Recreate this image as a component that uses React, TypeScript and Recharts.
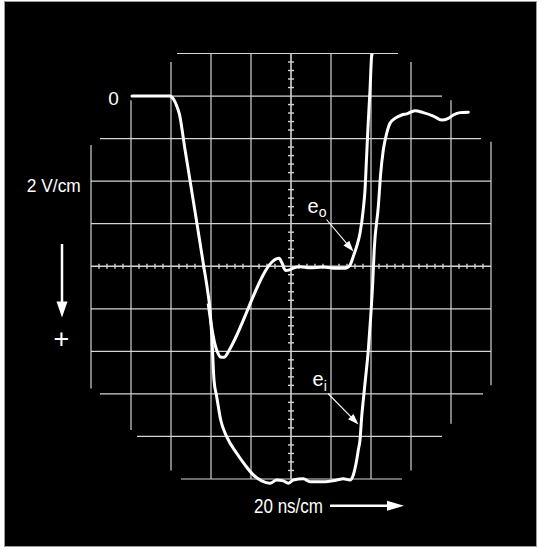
import React from 'react';
import { LineChart, Line, XAxis, YAxis, ReferenceLine } from 'recharts';

// scope photo: 20 ns per division across, 2 V per division, positive voltage downward
// input pulse e_i (time in ns, volts)
const eiNs = [
  20.5, 39.5, 41.3, 42.8, 44.2, 46.9, 49.55, 52.95, 56.4, 58.25, 59.5, 60.5, 61.5, 62.85, 64.85,
  67.85, 72.85, 77, 81.15, 85.35, 89.5, 92.85, 96.15, 98.65, 101.15, 106.15, 109.5,
  116.15, 122.85, 126.15, 129.5, 131.15, 132.85, 133.65, 134.5, 135.35, 136.15, 137,
  138.65, 139.85, 140.85, 141.6, 143.65, 144.85, 146.15, 147.85, 149.5, 152, 155.35,
  157.85, 162, 166.15, 171.15, 175.35, 178.65, 181.15, 184.5, 188.65,
];
const eiVolts = [
  0, 0, 0.15, 0.45, 0.85, 2.45, 3.99, 5.98, 8.02, 9.12, 10.06, 11.47, 13.35, 14.13, 15.23,
  16.01, 16.79, 17.34, 17.81, 18.09, 18.2, 18.05, 18.09, 18.2, 18.05, 17.99, 18.13,
  18.13, 18.05, 17.99, 18.05, 17.81, 17.11, 16.64, 16.17, 15.07, 14.29, 13.5,
  11.94, 10.37, 8.8, 7.24, 5.2, 3.63, 2.54, 1.75, 1.28, 1.05, 0.89,
  0.84, 0.69, 0.78, 0.94, 1.13, 1.05, 0.89, 0.78, 0.76,
];

// output e_o
const eoNs = [
  58.6, 60.3, 61.8, 63.3, 64.8, 66.6, 68.2, 70.5, 94.1, 95.5, 97.3, 99.2, 101.5, 104.5,
  109.5, 116, 122.8, 127, 129.5, 131.1, 132.8, 134.5, 136.1, 137, 137.8, 138.6, 139.5,
  140.3, 140.6,
];
const eoVolts = [
  9.75, 10.85, 11.6, 12.05, 12.27, 12.28, 12.1, 11.7, 7.63, 7.85, 8.2, 8.17, 8.07, 8.02,
  8.07, 8.04, 8.1, 8.1, 7.95, 7.55, 7.08, 6.45, 5.36, 4.42, 2.85, 1.28, -0.28,
  -1.85, -2,
];

const eiData = eiNs.map((t, i) => ({ t, v: eiVolts[i] }));
const eoData = eoNs.map((t, i) => ({ t, v: eoVolts[i] }));

// graticule, cut to the round face of the tube
const rows = [
  { v: -2, from: 43, to: 153.5 },
  { v: 0, from: 20, to: 175.5 },
  { v: 2, from: 4.5, to: 195 },
  { v: 4, from: 0, to: 200 },
  { v: 6, from: 0, to: 200 },
  { v: 8, from: 0, to: 200 },
  { v: 10, from: 0, to: 200 },
  { v: 12, from: 0, to: 200 },
  { v: 14, from: 4.5, to: 196 },
  { v: 16, from: 23, to: 175.5 },
  { v: 18, from: 45, to: 155.5 },
];
const cols = [
  { t: 0, from: 2.3, to: 13.75 },
  { t: 20, from: 0.2, to: 15.7 },
  { t: 40, from: -1.6, to: 17.6 },
  { t: 60, from: -2, to: 18 },
  { t: 80, from: -2, to: 18 },
  { t: 100, from: -2, to: 18 },
  { t: 120, from: -2, to: 18 },
  { t: 140, from: -2, to: 18 },
  { t: 160, from: -1.6, to: 17.6 },
  { t: 180, from: 0.2, to: 15.4 },
  { t: 200, from: 2.15, to: 13.6 },
];

const hTicks: number[] = [];
for (let i = 1; i < 50; i++) if (i % 5 !== 0) hTicks.push(i * 4);
const vTicks: number[] = [];
for (let i = 1; i < 50; i++) if (i % 5 !== 0) vTicks.push(-2 + i * 0.4);

const gridColor = '#d4d4d4';
const font = '"Liberation Sans", Arial, Helvetica, sans-serif';

function Arrow({ x1, y1, x2, y2, w, head, hw }: { x1: number; y1: number; x2: number; y2: number; w: number; head: number; hw: number }) {
  const dx = x2 - x1;
  const dy = y2 - y1;
  const len = Math.hypot(dx, dy);
  const ux = dx / len;
  const uy = dy / len;
  const bx = x2 - ux * head;
  const by = y2 - uy * head;
  const px = -uy * hw;
  const py = ux * hw;
  return (
    <g>
      <line x1={x1} y1={y1} x2={bx + ux * 2} y2={by + uy * 2} stroke="#fff" strokeWidth={w} />
      <polygon points={`${x2},${y2} ${bx + px},${by + py} ${bx - px},${by - py}`} fill="#fff" />
    </g>
  );
}

const App: React.FC = () => {
  return (
    <div style={{ position: 'absolute', left: 0, top: 0, width: 539, height: 550, background: '#fff' }}>
      <div
        style={{
          position: 'absolute',
          left: 4,
          top: 1,
          width: 533,
          height: 546,
          background: '#000',
          border: '1px solid #9a9a9a',
          boxSizing: 'border-box',
        }}
      />
      <div style={{ position: 'absolute', left: 0, top: 0 }}>
        <LineChart width={539} height={550} margin={{ top: 32.2, right: 28, bottom: 49.75, left: 71 }}>
          <XAxis dataKey="t" type="number" domain={[-10, 210]} allowDataOverflow hide />
          <YAxis dataKey="v" type="number" domain={[-3, 19]} reversed allowDataOverflow hide />
          {rows.map((r) => (
            <ReferenceLine
              key={`r${r.v}`}
              segment={[{ x: r.from, y: r.v }, { x: r.to, y: r.v }]}
              stroke={gridColor}
              strokeWidth={r.v === 8 ? 1.6 : 1.2}
              ifOverflow="visible"
            />
          ))}
          {cols.map((c) => (
            <ReferenceLine
              key={`c${c.t}`}
              segment={[{ x: c.t, y: c.from }, { x: c.t, y: c.to }]}
              stroke={gridColor}
              strokeWidth={c.t === 100 ? 1.6 : 1.2}
              ifOverflow="visible"
            />
          ))}
          {hTicks.map((t) => (
            <ReferenceLine
              key={`ht${t}`}
              segment={[{ x: t, y: 7.88 }, { x: t, y: 8.12 }]}
              stroke={gridColor}
              strokeWidth={1.4}
              ifOverflow="visible"
            />
          ))}
          {vTicks.map((v) => (
            <ReferenceLine
              key={`vt${v.toFixed(1)}`}
              segment={[{ x: 98.5, y: v }, { x: 101.5, y: v }]}
              stroke={gridColor}
              strokeWidth={1.4}
              ifOverflow="visible"
            />
          ))}
          <Line
            data={eiData}
            dataKey="v"
            type="monotone"
            stroke="#fff"
            strokeWidth={3}
            strokeLinejoin="round"
            strokeLinecap="round"
            dot={false}
            isAnimationActive={false}
          />
          <Line
            data={eoData}
            dataKey="v"
            type="monotone"
            stroke="#fff"
            strokeWidth={3}
            strokeLinejoin="round"
            strokeLinecap="butt"
            dot={false}
            isAnimationActive={false}
          />
        </LineChart>
      </div>
      <svg width={539} height={550} style={{ position: 'absolute', left: 0, top: 0, pointerEvents: 'none' }}>
        <g fill="#fff" fontFamily={font}>
          <text x={113.5} y={104.5} fontSize={19} textAnchor="middle">0</text>
          <text x={26.8} y={192.2} fontSize={18.5} textLength={54} lengthAdjust="spacingAndGlyphs">2 V/cm</text>
          <text x={61.5} y={348} fontSize={27} textAnchor="middle">+</text>
          <text x={254} y={512.5} fontSize={20} textLength={69} lengthAdjust="spacingAndGlyphs">20 ns/cm</text>
          <text x={307.5} y={213.3} fontSize={20}>
            e<tspan fontSize={14} dy={3.5}>o</tspan>
          </text>
          <text x={312.5} y={386} fontSize={20}>
            e<tspan fontSize={14} dy={4.5}>i</tspan>
          </text>
        </g>
        <Arrow x1={62} y1={244} x2={62} y2={317.5} w={2.5} head={16} hw={5.5} />
        <Arrow x1={330} y1={505.8} x2={404} y2={505.8} w={2.5} head={17} hw={5} />
        <Arrow x1={326.5} y1={219.5} x2={353.5} y2={251.5} w={1.1} head={11} hw={3.8} />
        <Arrow x1={328} y1={393.5} x2={358.5} y2={424.5} w={1.1} head={11} hw={3.8} />
      </svg>
    </div>
  );
};

export default App;
